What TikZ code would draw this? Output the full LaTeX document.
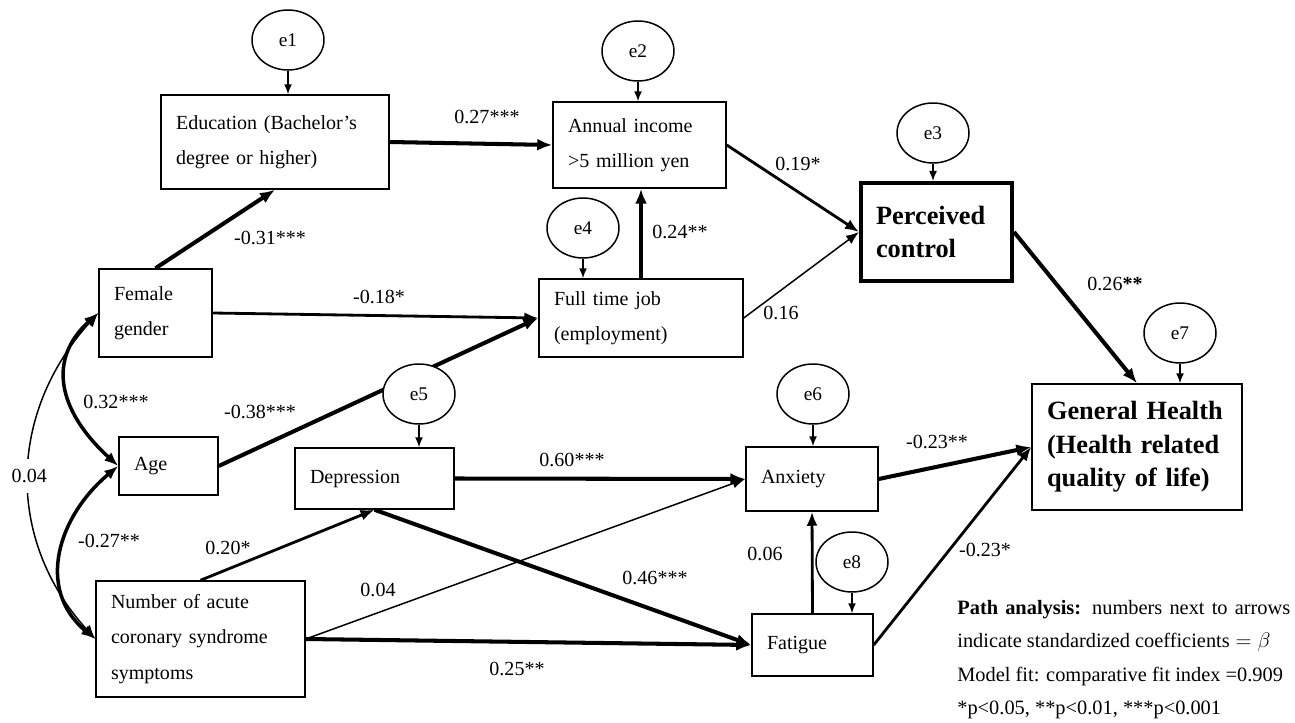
\documentclass[tikz,border=0pt]{standalone}
\usepackage{fontspec}
\setmainfont{Liberation Serif}
\usetikzlibrary{arrows.meta,shapes.geometric,calc}

\begin{document}
\begin{tikzpicture}[x=0.02cm, y=-0.02cm, every node/.style={font=\fontsize{11.4}{20}\selectfont},
    b/.style={draw, line width=.85pt, align=left, inner xsep=3mm, inner ysep=0pt},
    err/.style={draw, ellipse, line width=.85pt, fill=white, minimum width=1.44cm, minimum height=1.2cm, inner sep=0pt, font=\fontsize{11}{12}\selectfont},
    lab/.style={inner sep=1pt},
    w1/.style={line width=.85pt, -{Latex[length=2.6mm,width=2mm]}},
    w2/.style={line width=1.6pt, -{Latex[length=2.8mm,width=2.2mm]}},
    w3/.style={line width=2.3pt, -{Latex[length=3mm,width=2.4mm]}},
    cov/.style={{Latex[length=2.8mm,width=2.2mm]}-{Latex[length=2.8mm,width=2.2mm]}},
    ea/.style={line width=.85pt, -{Latex[length=2mm,width=1.6mm]}}]
  \useasboundingbox (0,0) rectangle (1295,723);
  % variables
  \node[err] (e1) at (288,40) {e1};
  \node[b, text width=3.96cm, minimum height=1.88cm] (edu) at (275,142) {Education (Bachelor's\\degree or higher)};
  \node[err] (e2) at (638,51) {e2};
  \node[b, text width=2.86cm, minimum height=1.72cm] (inc) at (639.5,145) {Annual income\\>5 million yen};
  \node[err] (e4) at (583,228) {e4};
  \node[b, text width=3.48cm, minimum height=1.56cm] (ft) at (641,318) {Full time job\\(employment)};
  \node[err] (e3) at (933,133) {e3};
  \node[b, line width=2.3pt, text width=2.42cm, minimum height=1.96cm, font=\fontsize{15}{19}\selectfont\bfseries] (pc) at (936.5,232) {Perceived\\control};
  \node[b, text width=1.66cm, minimum height=1.76cm] (fem) at (155.5,313) {Female\\gender};
  \node[b, text width=1.38cm, minimum height=1.16cm] (age) at (168.5,466) {Age};
  \node[b, text width=2.58cm, minimum height=1.22cm] (dep) at (374.5,478.5) {Depression};
  \node[b, text width=3.58cm, minimum height=2.32cm] (acs) at (200.5,639) {Number of acute\\coronary syndrome\\symptoms};
  \node[err] (e6) at (813,394) {e6};
  \node[b, text width=2.04cm, minimum height=1.28cm] (anx) at (812,479) {Anxiety};
  \node[err] (e8) at (852,562) {e8};
  \node[b, text width=1.82cm, minimum height=1.24cm] (fat) at (812.5,645) {Fatigue};
  \node[err] (e7) at (1180,333) {e7};
  \node[b, text width=3.6cm, minimum height=2.52cm, font=\fontsize{15}{19}\selectfont\bfseries] (gh) at (1137,447) {General Health\\(Health related\\quality of life)};
  % paths
  \draw[w3] (edu.east) -- (inc.west) node[lab] at (487,117) {0.27***};
  \draw[w3] (fem.north) -- (edu.south) node[lab] at (270,238) {-0.31***};
  \draw[w2] (inc.east) -- (pc.west) node[lab] at (798,164) {0.19*};
  \draw[w3] (ft.north) -- (ft.north |- inc.south) node[lab] at (680,232) {0.24**};
  \draw[w1] (ft.east) -- (pc.west) node[lab] at (781,313) {0.16};
  \draw[w2] (fem.east) -- (ft.west) node[lab] at (379,297) {-0.18*};
  \draw[w3] (age.east) -- (ft.west) node[lab] at (260,412) {-0.38***};
  \draw[w3] (dep.east) -- (anx.west) node[lab] at (572,460) {0.60***};
  \draw[w3] (dep.south) -- (fat.west) node[lab] at (655,578) {0.46***};
  \draw[w2] (acs.north) -- (dep.south) node[lab] at (228,548) {0.20*};
  \draw[w1] (acs.east) -- (anx.west) node[lab] at (378,590) {0.04};
  \draw[w3] (acs.east) -- (fat.west) node[lab] at (517,669) {0.25**};
  \draw[w2] (fat.north) -- (anx.south) node[lab] at (765,554) {0.06};
  \draw[w3] (anx.east) -- (gh.west) node[lab] at (937,442) {-0.23**};
  \draw[w2] (fat.east) -- (gh.west) node[lab] at (985,550) {-0.23*};
  \draw[w3] (pc.east) -- (gh.north) node[lab] at (1115,284) {0.26\textbf{**}};
  % covariances
  \draw[cov, line width=2pt] (fem.west) .. controls +(-55,50) and +(-55,-50) .. (age.west) node[lab] at (116,402) {0.32***};
  \draw[cov, line width=2pt] (age.west) .. controls +(-60,50) and +(-60,-50) .. (acs.west) node[lab] at (109,541) {-0.27**};
  \draw[cov, line width=.85pt] (fem.west) .. controls +(-90,100) and +(-90,-100) .. (acs.west) node[lab, fill=white, inner ysep=6pt, midway] {0.04};
  % errors
  \node[err] (e5) at (419,394) {e5};
  \foreach \e/\t in {e1/edu, e2/inc, e3/pc, e4/ft, e5/dep, e6/anx, e7/gh, e8/fat}
    \draw[ea] (\e.south) -- (\e.south |- \t.north);
  \node[anchor=north west, text width=6.66cm, align=justify, inner sep=0pt, font=\fontsize{11.6}{19}\selectfont] (note) at (957,600) {\textbf{Path analysis:} numbers next to arrows\linebreak indicate standardized coefficients${}=\beta$\\Model fit: comparative fit index =0.909\\{}*p<0.05, **p<0.01, ***p<0.001};
\end{tikzpicture}
\end{document}
